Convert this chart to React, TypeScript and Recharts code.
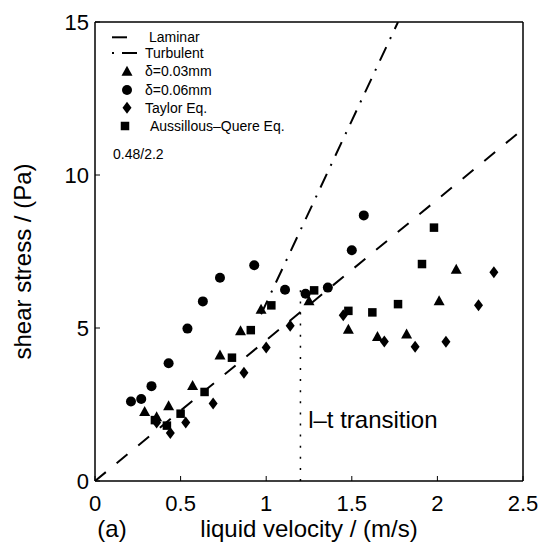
import {
  ComposedChart,
  Label,
  Legend,
  Line,
  ReferenceDot,
  Scatter,
  XAxis,
  YAxis,
} from "recharts";

const FONT = '"Liberation Sans", Arial, Helvetica, sans-serif';

// axes
const velocityTicks = [0, 0.5, 1, 1.5, 2, 2.5];
const stressTicks = [0, 5, 10, 15];

// δ=0.03mm (triangles)
const thinX = [0.29, 0.36, 0.43, 0.57, 0.73, 0.85, 0.97, 1.25, 1.48, 1.65, 1.82, 2.01, 2.11];
const thinY = [2.27, 2.1, 2.46, 3.12, 4.12, 4.91, 5.61, 5.89, 4.96, 4.72, 4.8, 5.89, 6.92];

// δ=0.06mm (circles)
const thickX = [0.21, 0.27, 0.33, 0.43, 0.54, 0.63, 0.73, 0.93, 1.11, 1.23, 1.36, 1.5, 1.57];
const thickY = [2.6, 2.68, 3.1, 3.85, 4.98, 5.87, 6.64, 7.05, 6.25, 6.12, 6.32, 7.54, 8.68];

// Taylor Eq. (diamonds)
const taylorX = [0.36, 0.44, 0.53, 0.69, 0.87, 1.0, 1.14, 1.45, 1.69, 1.87, 2.05, 2.24, 2.33];
const taylorY = [1.91, 1.57, 1.91, 2.53, 3.54, 4.36, 5.07, 5.42, 4.56, 4.39, 4.55, 5.74, 6.82];

// Aussillous–Quere Eq. (squares)
const aqX = [0.35, 0.42, 0.5, 0.64, 0.8, 0.91, 1.03, 1.28, 1.48, 1.62, 1.77, 1.91, 1.98];
const aqY = [1.99, 1.81, 2.2, 2.91, 4.03, 4.93, 5.74, 6.23, 5.56, 5.51, 5.78, 7.09, 8.28];

// model lines
const laminarX = [0, 2.5];
const laminarY = [0, 11.5];
const turbulentX = [0.97, 1.77];
const turbulentY = [5.45, 15];
const transitionX = [1.2, 1.2];
const transitionY = [0, 6.5];

const legendNames = [
  "Laminar",
  "Turbulent",
  "δ=0.03mm",
  "δ=0.06mm",
  "Taylor Eq.",
  "Aussillous–Quere Eq.",
];
const noteText = "0.48/2.2";
const transitionText = "l–t transition";
const transitionAt = { x: 1.245, y: 1.73 };

const pts = (xs: number[], ys: number[]) => xs.map((x, i) => ({ x, y: ys[i] }));

function Tri({ cx, cy }: any) {
  return (
    <polygon
      points={`${cx},${cy - 5.5} ${cx - 5.5},${cy + 4.5} ${cx + 5.5},${cy + 4.5}`}
      fill="#000"
    />
  );
}

function Circ({ cx, cy }: any) {
  return <circle cx={cx} cy={cy} r={5} fill="#000" />;
}

function Dia({ cx, cy }: any) {
  return (
    <polygon
      points={`${cx},${cy - 6} ${cx + 4.5},${cy} ${cx},${cy + 6} ${cx - 4.5},${cy}`}
      fill="#000"
    />
  );
}

function Sq({ cx, cy }: any) {
  return <rect x={cx - 4.25} y={cy - 4.25} width={8.5} height={8.5} fill="#000" />;
}

function LegendBox() {
  const rowY = [15.3, 31, 49.3, 68, 85.7, 104];
  const textX = [53, 49, 49, 49, 49, 54];
  return (
    <svg width={210} height={145} style={{ display: "block", fontFamily: FONT }}>
      <line x1={16} x2={31} y1={rowY[0]} y2={rowY[0]} stroke="#000" strokeWidth={2} />
      <line x1={16} x2={18} y1={rowY[1]} y2={rowY[1]} stroke="#000" strokeWidth={2} />
      <line x1={26} x2={41} y1={rowY[1]} y2={rowY[1]} stroke="#000" strokeWidth={2} />
      <Tri cx={31} cy={rowY[2]} />
      <Circ cx={31} cy={rowY[3]} />
      <Dia cx={31} cy={rowY[4]} />
      <Sq cx={29} cy={rowY[5]} />
      {legendNames.map((name, i) => (
        <text key={name} x={textX[i]} y={rowY[i] + 5} fontSize={14} fill="#000">
          {name}
        </text>
      ))}
      <text x={17} y={137} fontSize={14} fill="#000">
        {noteText}
      </text>
    </svg>
  );
}

export default function App() {
  const axisStyle = { stroke: "#000", strokeWidth: 1.5 };
  const tickLineStyle = { stroke: "#000", strokeWidth: 1 };
  const tickStyle = { fill: "#000", fontSize: 22, fontFamily: FONT };

  return (
    <div style={{ position: "absolute", left: 0, top: 0, background: "#fff" }}>
      <ComposedChart
        width={544}
        height={552}
        margin={{ top: 21, right: 20, bottom: 0, left: 0 }}
        style={{ fontFamily: FONT }}
      >
        <XAxis
          dataKey="x"
          type="number"
          domain={[0, 2.5]}
          ticks={velocityTicks}
          interval={0}
          height={71}
          tickSize={-5}
          tickMargin={19}
          axisLine={axisStyle}
          tickLine={tickLineStyle}
          tick={tickStyle}
          allowDataOverflow
        >
          <Label
            content={(p: any) => {
              const vb = p.viewBox;
              return (
                <g fontFamily={FONT} fontSize={24} fill="#000">
                  <text x={vb.x + 17} y={vb.y + 56} textAnchor="middle">
                    (a)
                  </text>
                  <text x={vb.x + vb.width / 2} y={vb.y + 56} textAnchor="middle">
                    liquid velocity / (m/s)
                  </text>
                </g>
              );
            }}
          />
        </XAxis>
        <XAxis
          xAxisId="top"
          orientation="top"
          type="number"
          domain={[0, 2.5]}
          ticks={velocityTicks}
          interval={0}
          height={1}
          tickSize={-5}
          tick={false}
          axisLine={axisStyle}
          tickLine={tickLineStyle}
          allowDataOverflow
        />
        <YAxis
          type="number"
          domain={[0, 15]}
          ticks={stressTicks}
          interval={0}
          width={95}
          tickSize={-5}
          tickMargin={11}
          axisLine={axisStyle}
          tickLine={tickLineStyle}
          tick={tickStyle}
          allowDataOverflow
        >
          <Label
            content={(p: any) => {
              const vb = p.viewBox;
              const cx = 31;
              const cy = vb.y + vb.height / 2 + 10;
              return (
                <text
                  x={cx}
                  y={cy}
                  transform={`rotate(-90, ${cx}, ${cy})`}
                  textAnchor="middle"
                  fontFamily={FONT}
                  fontSize={24}
                  fill="#000"
                >
                  shear stress / (Pa)
                </text>
              );
            }}
          />
        </YAxis>
        <YAxis
          yAxisId="right"
          orientation="right"
          type="number"
          domain={[0, 15]}
          ticks={stressTicks}
          interval={0}
          width={1}
          tickSize={-5}
          tick={false}
          axisLine={axisStyle}
          tickLine={tickLineStyle}
          allowDataOverflow
        />

        <Line
          data={pts(laminarX, laminarY)}
          dataKey="y"
          name="Laminar"
          stroke="#000"
          strokeWidth={2}
          strokeDasharray="14 14"
          dot={false}
          activeDot={false}
          isAnimationActive={false}
        />
        <Line
          data={pts(turbulentX, turbulentY)}
          dataKey="y"
          name="Turbulent"
          stroke="#000"
          strokeWidth={2}
          strokeDasharray="15 9 2 9"
          dot={false}
          activeDot={false}
          isAnimationActive={false}
        />
        <Line
          data={pts(transitionX, transitionY)}
          dataKey="y"
          name="transition"
          stroke="#000"
          strokeWidth={1.5}
          strokeDasharray="2 9.1"
          dot={false}
          activeDot={false}
          isAnimationActive={false}
        />

        <Scatter data={pts(thinX, thinY)} dataKey="y" name="δ=0.03mm" shape={Tri} isAnimationActive={false} />
        <Scatter data={pts(thickX, thickY)} dataKey="y" name="δ=0.06mm" shape={Circ} isAnimationActive={false} />
        <Scatter data={pts(taylorX, taylorY)} dataKey="y" name="Taylor Eq." shape={Dia} isAnimationActive={false} />
        <Scatter data={pts(aqX, aqY)} dataKey="y" name="Aussillous–Quere Eq." shape={Sq} isAnimationActive={false} />

        <ReferenceDot
          x={transitionAt.x}
          y={transitionAt.y}
          r={1}
          fill="none"
          stroke="none"
          label={{
            content: (p: any) => {
              const vb = p.viewBox;
              return (
                <text x={vb.x + vb.width / 2} y={vb.y + vb.height / 2} fontFamily={FONT} fontSize={24} fill="#000">
                  {transitionText}
                </text>
              );
            },
          }}
        />

        <Legend
          layout="vertical"
          align="center"
          verticalAlign="middle"
          wrapperStyle={{ left: 96, top: 22, width: 210, height: 145 }}
          content={() => <LegendBox />}
        />
      </ComposedChart>
    </div>
  );
}
